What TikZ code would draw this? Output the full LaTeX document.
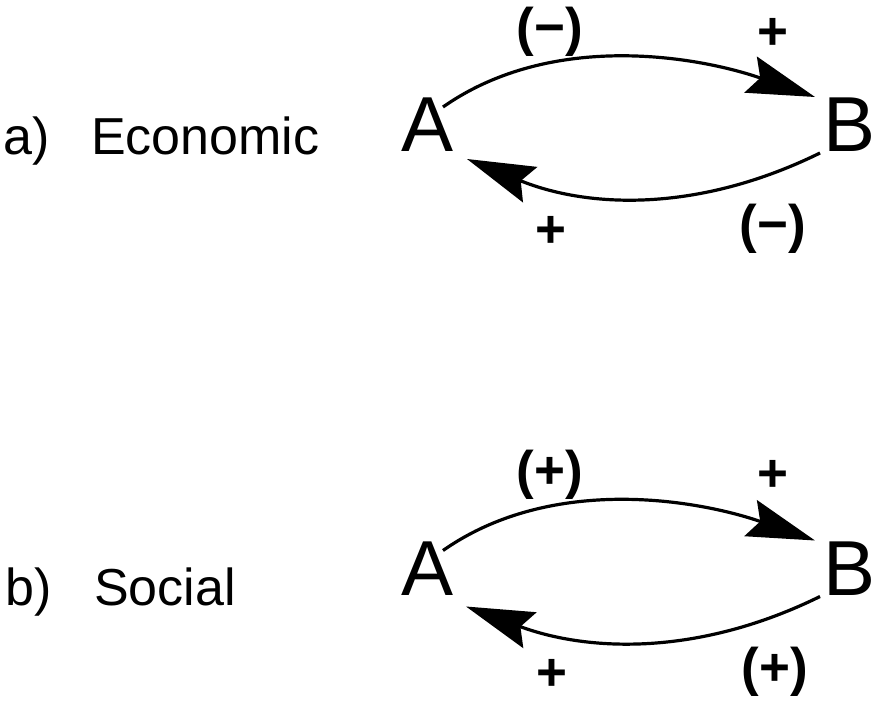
\documentclass[tikz,border=0pt]{standalone}
\usepackage{fontspec}
\setmainfont{Liberation Sans}
\usetikzlibrary{arrows.meta,calc}
\begin{document}
\begin{tikzpicture}[x=1pt,y=-1pt,
  letter/.style={font=\fontsize{78}{80}\selectfont, inner sep=0pt},
  sign/.style={font=\bfseries\fontsize{53}{55}\selectfont, inner sep=0pt},
  caption/.style={font=\fontsize{52}{54}\selectfont, inner sep=0pt, anchor=base west},
  link/.style={line width=3.2pt, -{Stealth[length=68pt,width=38pt,inset=10pt]}}]
\useasboundingbox (0,0) rectangle (877,703);

% ---- panel a ----
\node[caption] (la) at (3,155) {a)};
\node[caption] (ta) at (91,155) {Economic};
\node[letter] (A1) at (428,125) {A};
\node[letter] (B1) at (849,125) {B};
\draw[link] ($(A1)+(15,-18)$) .. controls ($(A1)+(125,-95)$) and ($(B1)+(-149,-68)$) .. ($(B1)+(-34,-28)$);
\draw[link] ($(B1)+(-29,28)$) .. controls ($(B1)+(-149,87)$) and ($(A1)+(162,84)$) .. ($(A1)+(39,34)$);
\node[sign] (s1) at (550,32) {(−)};
\node[sign] (s2) at (773,34) {+};
\node[sign] (s3) at (551,232) {+};
\node[sign] (s4) at (773,229) {(−)};

% ---- panel b ----
\node[caption] (lb) at (5,605) {b)};
\node[caption] (tb) at (94,605) {Social};
\node[letter] (A2) at (428,568.5) {A};
\node[letter] (B2) at (849,568.5) {B};
\draw[link] ($(A2)+(15,-18)$) .. controls ($(A2)+(125,-95)$) and ($(B2)+(-149,-68)$) .. ($(B2)+(-34,-28)$);
\draw[link] ($(B2)+(-29,28)$) .. controls ($(B2)+(-149,87)$) and ($(A2)+(162,84)$) .. ($(A2)+(38,38)$);
\node[sign] (s5) at (550,475) {(+)};
\node[sign] (s6) at (773,476) {+};
\node[sign] (s7) at (552,675) {+};
\node[sign] (s8) at (775,672) {(+)};
\end{tikzpicture}
\end{document}
